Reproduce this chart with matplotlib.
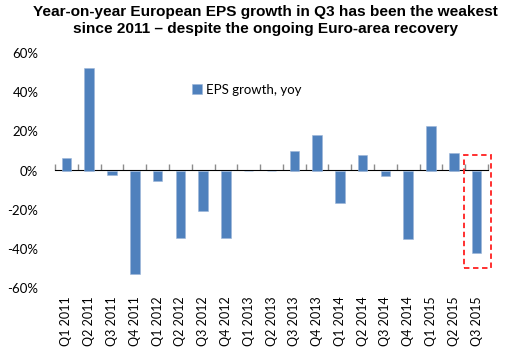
import matplotlib
matplotlib.use("Agg")
import matplotlib.pyplot as plt
from matplotlib.patches import Rectangle
import numpy as np

categories = ["Q1 2011", "Q2 2011", "Q3 2011", "Q4 2011",
              "Q1 2012", "Q2 2012", "Q3 2012", "Q4 2012",
              "Q1 2013", "Q2 2013", "Q3 2013", "Q4 2013",
              "Q1 2014", "Q2 2014", "Q3 2014", "Q4 2014",
              "Q1 2015", "Q2 2015", "Q3 2015"]
eps_growth = [6.4, 52.4, -2.5, -52.9,
              -5.2, -34.3, -20.8, -34.3,
              0.0, 0.0, 10.1, 18.2,
              -16.4, 7.9, -3.0, -35.1,
              22.5, 8.8, -42.2]
yticks = [-60, -40, -20, 0, 20, 40, 60]
series_name = "EPS growth, yoy"
title = "Year-on-year European EPS growth in Q3 has been the weakest\nsince 2011 \u2013 despite the ongoing Euro-area recovery"

tick_font = ["Lato", "DejaVu Sans"]

fig = plt.figure(figsize=(5.28, 3.5), dpi=100)
ax = fig.add_axes([55/528, 1-288/350, (488-55)/528, (288-53)/350])

x = np.arange(len(categories))
bars = ax.bar(x, eps_growth, width=0.42, color="#4F81BD", edgecolor="#9cb6d8",
              linewidth=0.4, label=series_name, zorder=2)

ax.set_xlim(-0.5, len(categories) - 0.5)
ax.set_ylim(-60, 60)
ax.set_yticks(yticks)
ax.set_yticklabels([f"{v}%" for v in yticks], fontfamily=tick_font, fontsize=9.5)
ax.tick_params(axis="y", length=0, pad=12)
ax.set_xticks(x)
ax.set_xticklabels(categories, rotation=90, fontfamily=tick_font, fontsize=9)
ax.tick_params(axis="x", length=0, pad=6)
for s in ax.spines.values():
    s.set_visible(False)

# zero axis line with boundary tick marks
sec = ax.secondary_xaxis(0.5)
sec.spines["bottom"].set_color("#8c8c8c")
sec.spines["bottom"].set_linewidth(1.0)
sec.set_xticks(np.arange(len(categories) + 1) - 0.5)
sec.set_xticklabels([])
sec.tick_params(axis="x", length=4, color="#8c8c8c", width=1.0)
sec.spines["bottom"].set_zorder(3)

# highlight box around last bar
last = len(categories) - 1
box = Rectangle((last - 0.56, -49.9), 1.18, 58.0, fill=False, edgecolor="#ff2020",
                linestyle=(0, (3, 2)), linewidth=1.3, clip_on=False, zorder=4)
ax.add_patch(box)

leg = ax.legend(loc="center left", bbox_to_anchor=(0.316, 0.843), frameon=False,
                prop={"family": tick_font, "size": 9.5}, handlelength=0.75,
                handleheight=0.75, handletextpad=0.3, borderpad=0, borderaxespad=0)

fig.text(0.502, 1 - 5/350, title, ha="center", va="top", fontsize=11.1,
         fontweight="bold", fontfamily="Liberation Sans", linespacing=1.3)

fig.savefig("out.png", dpi=100)
